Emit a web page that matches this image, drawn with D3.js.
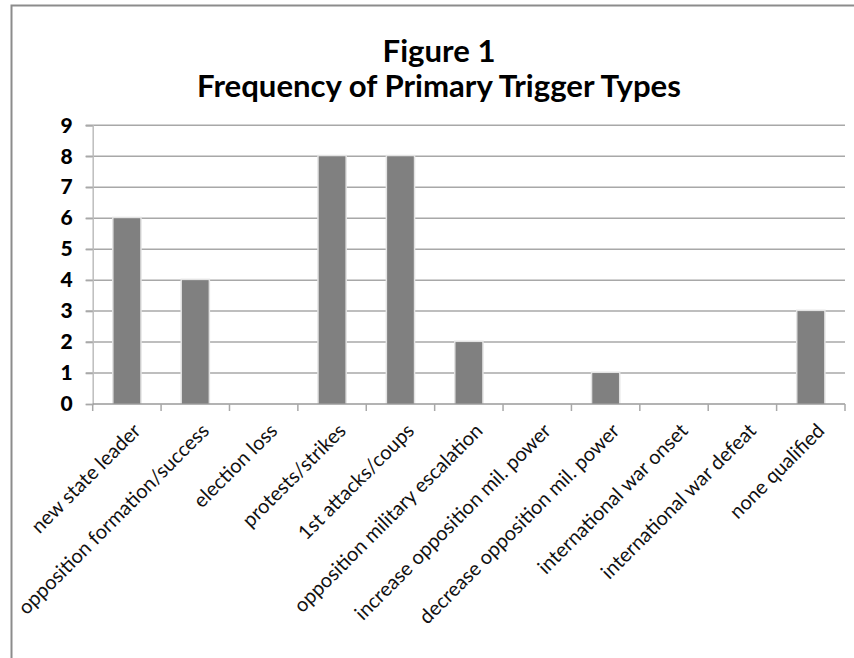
<!DOCTYPE html>
<html>
<head>
<meta charset="utf-8">
<script src="https://cdn.jsdelivr.net/npm/d3@7"></script>
<style>
  body { margin: 0; background: #fff; }
  svg { display: block; }
</style>
</head>
<body>
<div id="chart"></div>
<script>
// categories and counts
var categories = ["new state leader", "opposition formation/success", "election loss",
  "protests/strikes", "1st attacks/coups", "opposition military escalation",
  "increase opposition mil. power", "decrease opposition mil. power",
  "international war onset", "international war defeat", "none qualified"];
var counts = [6, 4, 0, 8, 8, 2, 0, 1, 0, 0, 3];
var yTicks = [0, 1, 2, 3, 4, 5, 6, 7, 8, 9];
var titleLines = ["Figure 1", "Frequency of Primary Trigger Types"];

function init() {
  var W = 854, H = 658;
  var left = 92.7, right = 845, top = 125.3, bottom = 404;
  var font = "Lato, 'Open Sans', sans-serif";

  var svg = d3.select("#chart").append("svg")
      .attr("width", W).attr("height", H);

  // chart border
  svg.append("rect")
      .attr("x", 11.5).attr("y", 5.5)
      .attr("width", W + 20).attr("height", H + 20)
      .attr("fill", "#fff").attr("stroke", "#8c8c8c").attr("stroke-width", 2);

  var x = d3.scaleBand().domain(d3.range(categories.length))
      .range([left, right]).paddingInner(0).paddingOuter(0);
  var y = d3.scaleLinear().domain([0, 9]).range([bottom, top]);

  // title: one size for both lines, fitted so the long line is ~484px wide
  var titleY = [62, 97];
  var probe = svg.append("text")
      .attr("font-family", font).attr("font-weight", "bold")
      .attr("font-size", 30).text(titleLines[1]);
  var titleSize = 30 * 484 / probe.node().getComputedTextLength();
  probe.remove();
  svg.append("g").selectAll("text").data(titleLines).enter().append("text")
      .attr("x", 439).attr("y", function(d, i) { return titleY[i]; })
      .attr("text-anchor", "middle")
      .attr("font-family", font).attr("font-weight", "bold")
      .attr("font-size", titleSize).attr("fill", "#000")
      .text(function(d) { return d; });

  // gridlines
  svg.append("g")
    .selectAll("line").data(yTicks.filter(function(d) { return d > 0; }))
    .enter().append("line")
      .attr("x1", left - 7).attr("x2", right)
      .attr("y1", function(d) { return y(d); })
      .attr("y2", function(d) { return y(d); })
      .attr("stroke", "#a8a8a8").attr("stroke-width", 1.5);

  // y axis
  var yAxis = d3.axisLeft(y).tickValues(yTicks).tickSize(7).tickPadding(13);
  var gy = svg.append("g").attr("transform", "translate(" + left + ",0)").call(yAxis);
  gy.select(".domain").attr("stroke", "#bdbdbd").attr("stroke-width", 1.5);
  gy.selectAll(".tick line").attr("stroke", "#a8a8a8").attr("stroke-width", 1.5);
  gy.selectAll(".tick text")
      .attr("font-family", font).attr("font-weight", 900)
      .attr("font-size", 21).attr("fill", "#000");

  // bars: light halo then gray bar
  var bw = x.bandwidth() * 0.39;
  var bars = svg.append("g").selectAll("g")
      .data(counts.map(function(v, i) { return {v: v, i: i}; })
        .filter(function(d) { return d.v > 0; }))
      .enter().append("g");
  bars.append("rect")
      .attr("x", function(d) { return x(d.i) + (x.bandwidth() - bw) / 2 - 1.5; })
      .attr("y", function(d) { return y(d.v) - 1.5; })
      .attr("width", bw + 3)
      .attr("height", function(d) { return bottom - y(d.v) + 1.5; })
      .attr("fill", "#e3e3e3");
  bars.append("rect")
      .attr("x", function(d) { return x(d.i) + (x.bandwidth() - bw) / 2; })
      .attr("y", function(d) { return y(d.v); })
      .attr("width", bw)
      .attr("height", function(d) { return bottom - y(d.v); })
      .attr("fill", "#808080");

  // x axis line and ticks at band boundaries
  var bounds = d3.range(categories.length + 1).map(function(i) {
    return left + i * x.bandwidth();
  });
  svg.append("line")
      .attr("x1", left).attr("x2", right)
      .attr("y1", bottom).attr("y2", bottom)
      .attr("stroke", "#9a9a9a").attr("stroke-width", 1.5);
  svg.append("g").selectAll("line").data(bounds).enter().append("line")
      .attr("x1", function(d) { return d; }).attr("x2", function(d) { return d; })
      .attr("y1", bottom).attr("y2", bottom + 7)
      .attr("stroke", "#a8a8a8").attr("stroke-width", 1.5);

  // rotated category labels, sized so the long label is ~260px
  var probe2 = svg.append("text").attr("font-family", font)
      .attr("font-size", 17).text(categories[1]);
  var labelSize = 17 * 260 / probe2.node().getComputedTextLength();
  probe2.remove();
  svg.append("g").selectAll("text").data(categories).enter().append("text")
      .attr("transform", function(d, i) {
        return "translate(" + (x(i) + x.bandwidth() / 2 + 15) + "," + (bottom + 28) + ") rotate(-45)";
      })
      .attr("text-anchor", "end")
      .attr("font-family", font).attr("font-size", labelSize)
      .attr("fill", "#111")
      .text(function(d) { return d; });
}

window.onload = init;
</script>
</body>
</html>
